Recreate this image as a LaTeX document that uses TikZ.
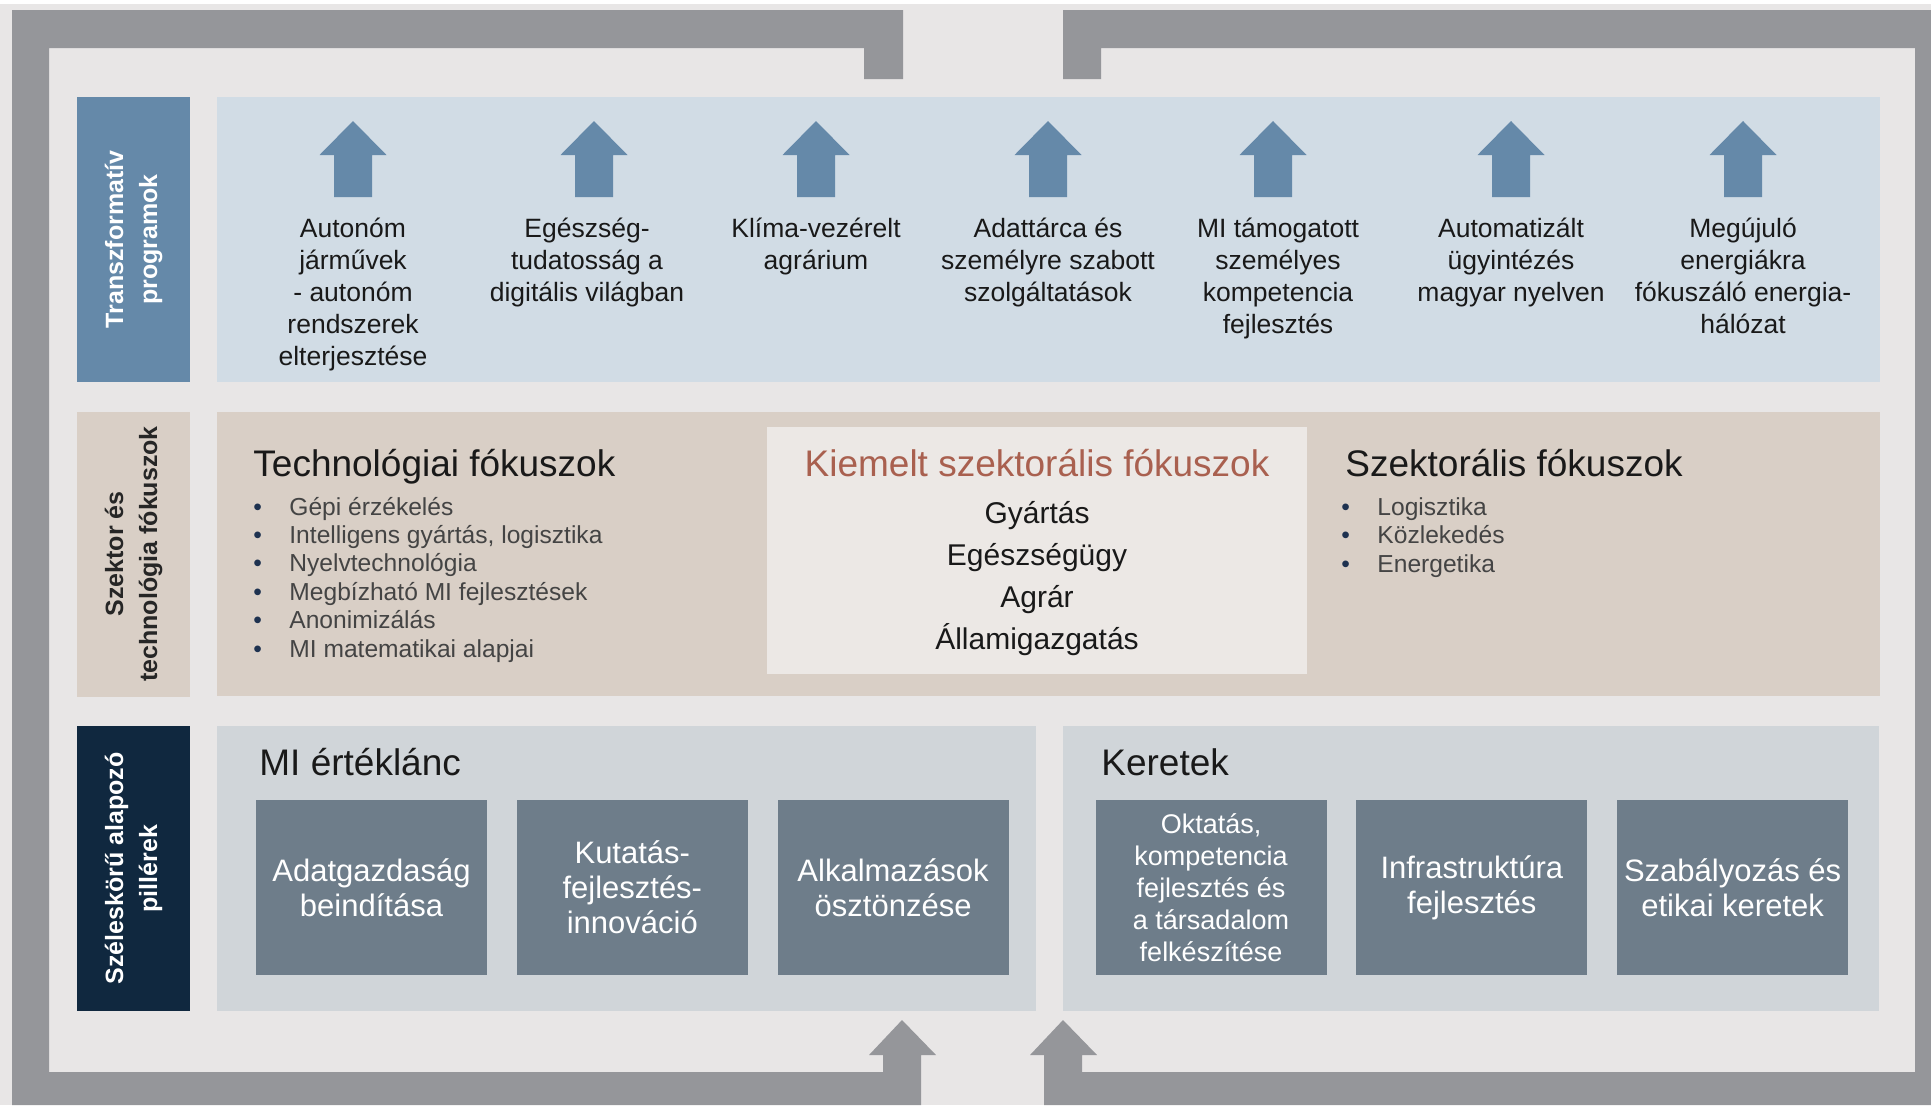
\documentclass[tikz,border=0pt]{standalone}
\usepackage{fontspec}
\setmainfont{Liberation Sans}
\usetikzlibrary{positioning}

\definecolor{bggray}{HTML}{E8E6E6}
\definecolor{framegray}{HTML}{95969A}
\definecolor{progblue}{HTML}{6589A9}
\definecolor{progpanel}{HTML}{D1DCE5}
\definecolor{sectbeige}{HTML}{D9CFC6}
\definecolor{sectlight}{HTML}{ECE8E5}
\definecolor{pillarnavy}{HTML}{10283F}
\definecolor{pillarpanel}{HTML}{D0D5D9}
\definecolor{pillarbox}{HTML}{6E7D8A}
\definecolor{kiemred}{HTML}{A9604F}
\definecolor{itemgray}{HTML}{444444}
\definecolor{bulletnavy}{HTML}{1E3250}

\def\progarrow#1{\fill[progblue] (#1,121) -- (#1+33.5,155) -- (#1+19,155) -- (#1+19,197) -- (#1-19,197) -- (#1-19,155) -- (#1-33.5,155) -- cycle;}
\def\bitem#1{\makebox[18pt][l]{\textcolor{bulletnavy}{•}}#1}

\begin{document}
\begin{tikzpicture}[x=0.5pt,y=-0.5pt,inner sep=0pt,node distance=14.5pt]
    \tikzstyle{side label}=[rotate=90,minimum width=142.5pt,minimum height=56.5pt,align=center,font=\fontsize{12.5}{17}\selectfont\bfseries]
    \tikzstyle{prog label}=[anchor=base,align=center,text=black!90,font=\fontsize{13.25}{16}\selectfont]
    \tikzstyle{panel title}=[anchor=base west,text=black!90,font=\fontsize{18.5}{22}\selectfont]
    \tikzstyle{item list}=[anchor=base west,align=left,text=itemgray,font=\fontsize{12.3}{14.2}\selectfont]
    \tikzstyle{pillar box}=[fill=pillarbox,text=white,minimum width=115.5pt,minimum height=87.5pt,align=center,font=\fontsize{15.5}{17.5}\selectfont]
    \useasboundingbox (0,0) rectangle (1931,1105);

    % Background and frame
    \fill[bggray] (0,0) rectangle (1931,1105);
    \fill[white] (0,0) rectangle (1931,4);
    \fill[framegray] (12,10) -- (903,10) -- (903,79) -- (864,79) -- (864,48) -- (49,48) -- (49,1072) -- (883,1072) -- (883,1055) -- (869,1055) -- (902,1020) -- (936,1055) -- (921,1055) -- (921,1105) -- (12,1105) -- cycle;
    \fill[framegray] (1063,10) -- (1931,10) -- (1931,1105) -- (1044,1105) -- (1044,1055) -- (1030,1055) -- (1063,1020) -- (1097,1055) -- (1082,1055) -- (1082,1072) -- (1915,1072) -- (1915,48) -- (1101,48) -- (1101,79) -- (1063,79) -- cycle;

    % Panels
    \fill[progpanel] (217,97) rectangle (1880,382);
    \fill[sectbeige] (217,412) rectangle (1880,696);
    \fill[sectlight] (767,427) rectangle (1307,674);
    \fill[pillarpanel] (217,726) rectangle (1036,1011);
    \fill[pillarpanel] (1063,726) rectangle (1879,1011);

    % Side labels
    \node[side label,fill=progblue,text=white] (prog) at (133.5,239.5) {Transzformatív\\programok};
    \node[side label,fill=sectbeige,text=black!85] (sect) at (133.5,554) {Szektor és\\technológia fókuszok};
    \node[side label,fill=pillarnavy,text=white] (pillar) at (133.5,868.5) {Széleskörű alapozó\\pillérek};

    % Transformative programmes (base = last line)
    \progarrow{353} \progarrow{594} \progarrow{816} \progarrow{1048}
    \progarrow{1273} \progarrow{1511} \progarrow{1743}
    \node[prog label] (autonom) at (353,365) {Autonóm\\járművek\\- autonóm\\rendszerek\\elterjesztése};
    \node[prog label] (egeszseg) at (587,301) {Egészség-\\tudatosság a\\digitális világban};
    \node[prog label] (klima) at (816,269) {Klíma-vezérelt\\agrárium};
    \node[prog label] (adattarca) at (1048,301) {Adattárca és\\személyre szabott\\szolgáltatások};
    \node[prog label] (kompetencia) at (1278,333) {MI támogatott\\személyes\\kompetencia\\fejlesztés};
    \node[prog label] (ugyintezes) at (1511,301) {Automatizált\\ügyintézés\\magyar nyelven};
    \node[prog label] (energia) at (1743,333) {Megújuló\\energiákra\\fókuszáló energia-\\hálózat};

    % Sector and technology focus
    \node[panel title] (techtitle) at (253,476) {Technológiai fókuszok};
    \node[item list] (techlist) at (253,657) {\bitem{Gépi érzékelés}\\\bitem{Intelligens gyártás, logisztika}\\\bitem{Nyelvtechnológia}\\\bitem{Megbízható MI fejlesztések}\\\bitem{Anonimizálás}\\\bitem{MI matematikai alapjai}};
    \node[panel title,anchor=base,text=kiemred] (kiemtitle) at (1037,476) {Kiemelt szektorális fókuszok};
    \node[anchor=base,align=center,text=black!90,font=\fontsize{15}{21}\selectfont] (kiemlist) at (1037,649) {Gyártás\\Egészségügy\\Agrár\\Államigazgatás};
    \node[panel title] (szektitle) at (1345,476) {Szektorális fókuszok};
    \node[item list] (szeklist) at (1341,572) {\bitem{Logisztika}\\\bitem{Közlekedés}\\\bitem{Energetika}};

    % Foundation pillars
    \node[panel title] (ertektitle) at (259,775) {MI értéklánc};
    \node[pillar box] (adat) at (371.5,887.5) {Adatgazdaság\\beindítása};
    \node[pillar box,right=of adat] (kutatas) {Kutatás-\\fejlesztés-\\innováció};
    \node[pillar box,right=of kutatas] (alkalm) {Alkalmazások\\ösztönzése};
    \node[panel title] (kerettitle) at (1101,775) {Keretek};
    \node[pillar box,font=\fontsize{13.5}{16}\selectfont] (oktatas) at (1211,887.5) {Oktatás,\\kompetencia\\fejlesztés és\\a társadalom\\felkészítése};
    \node[pillar box,right=of oktatas] (infra) {Infrastruktúra\\fejlesztés};
    \node[pillar box,right=of infra] (szabaly) {Szabályozás és\\etikai keretek};
\end{tikzpicture}
\end{document}
